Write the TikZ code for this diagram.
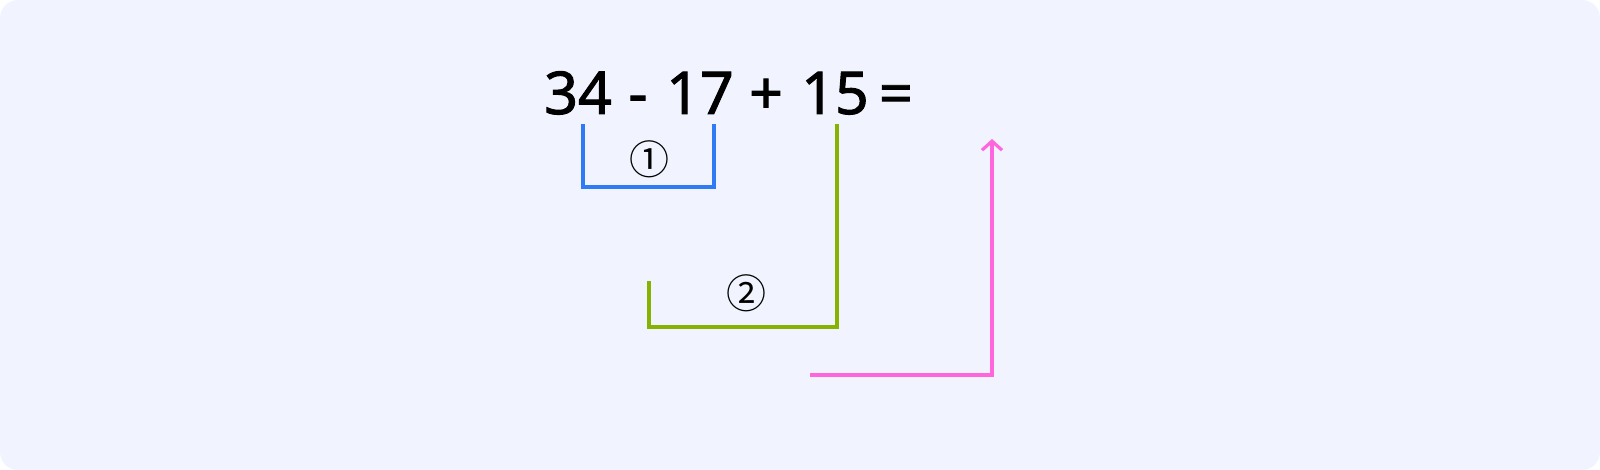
\documentclass[tikz,border=0pt]{standalone}
\usepackage{fontspec}
\setmainfont{Noto Sans}
\newfontfamily\numfont[FakeBold=1.6]{Noto Sans}
\newfontfamily\symfont{Noto Sans CJK SC}
\usepackage{tikz}
\usetikzlibrary{arrows,arrows.meta,positioning}
\definecolor{bgpanel}{HTML}{F1F4FE}
\definecolor{stepblue}{HTML}{2F7AF5}
\definecolor{stepgreen}{HTML}{86B300}
\definecolor{steppink}{HTML}{FF66DD}
\tikzstyle{term}=[inner sep=0pt,anchor=base,font=\numfont\fontsize{29.5}{30}\selectfont]
\tikzstyle{mark circ}=[inner sep=0pt,font=\symfont\fontsize{20}{20}\selectfont]
\tikzstyle{bracket}=[line width=1.6pt]

\begin{document}
\begin{tikzpicture}[x=0.5pt,y=-0.5pt]
        \fill[bgpanel,rounded corners=9pt] (0,0) rectangle (1600,470);
        \useasboundingbox (0,0) rectangle (1600,470);
        \node[term] (n34) at (578,114) {34};
        \node[term] (minus) at (638,114) {-};
        \node[term] (n17) at (700,114) {17};
        \node[term] (plus) at (766,114) {+};
        \node[term] (n15) at (835,114) {15};
        \node[term] (eq) at (896,114) {=};
        \node[mark circ] (c1) at (649,159) {①};
        \node[mark circ] (c2) at (746,293) {②};
        \coordinate (b1a) at (583,124);
        \coordinate (b1b) at (714,124);
        \coordinate (g1a) at (837,124);
        \coordinate (g1b) at (649,281);
        \coordinate (p1a) at (810,375);
        \coordinate (p1b) at (992,139);
        \draw[bracket,stepblue] (b1a) -- ++(0,63) -| (b1b);
        \draw[bracket,stepgreen] (g1a) -- ++(0,203) -| (g1b);
        \draw[bracket,steppink,-{Straight Barb[length=4.5pt,width=10pt]}] (p1a) -| (p1b);
      \end{tikzpicture}
\end{document}
